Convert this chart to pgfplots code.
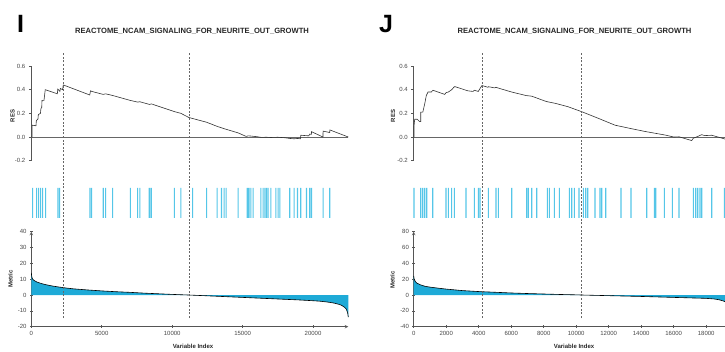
\documentclass[border=0pt]{standalone}
\usepackage{fontspec}
\setmainfont{Liberation Sans}
\usepackage{pgfplots}
\pgfplotsset{compat=1.18}
\definecolor{fillblue}{RGB}{30,170,215}
\definecolor{barblue}{RGB}{85,198,232}
\definecolor{axgray}{RGB}{85,85,85}
\definecolor{txtgray}{RGB}{70,70,70}
\pgfplotsset{
  base/.style={scale only axis, anchor=south west,
    axis line style={axgray, line width=0.6pt, -},
    tick style={axgray, line width=0.6pt}, tick align=outside, major tick length=2.5pt,
    tick label style={font=\fontsize{6}{7}\selectfont, text=txtgray},
    /pgf/number format/assume math mode=true, /pgf/number format/1000 sep={},
    scaled ticks=false, clip=false},
  blank/.style={scale only axis, anchor=south west, hide axis, clip=false},
  resline/.style={black!80, line width=0.6pt},
  zeroline/.style={black!60, line width=0.6pt},
  bars/.style={ybar, bar width=1.1pt, bar shift=0pt, fill=barblue, draw=none, mark=none},
  dsh/.style={black!60, line width=0.5pt, dash pattern=on 2pt off 1.6pt},
  resaxis/.style={base, height=94.7pt, ymin=-0.2, ymax=0.6, axis x line=none, axis y line*=left,
    ytick={-0.2,0,0.2,0.4,0.6},
    yticklabel style={/pgf/number format/.cd, fixed, fixed zerofill, precision=1}},
}
\pgfplotstableread{
x y
0 0
60 0
60 0.10
330 0.095
360 0.14
470 0.15
500 0.19
650 0.20
680 0.24
740 0.25
760 0.31
900 0.31
990 0.40
1850 0.365
1880 0.405
2030 0.385
2060 0.41
2220 0.40
2270 0.44
4150 0.355
4200 0.39
4300 0.385
5100 0.36
5280 0.365
5800 0.35
7000 0.31
7550 0.295
7700 0.298
8400 0.275
8520 0.28
10150 0.215
10620 0.20
11180 0.165
12440 0.125
13190 0.09
13700 0.07
14680 0.035
15248 0.005
15400 0.01
15600 0.008
16000 0.003
16300 -0.003
16700 -0.002
17000 -0.004
17500 -0.002
18000 -0.006
18350 -0.012
18650 -0.015
18900 -0.012
19100 -0.015
19130 0.015
19700 0.01
19760 0.025
19880 0.022
19890 0.045
20700 0.0
20710 0.05
21180 0.038
21190 0.06
22500 0
}\resI
\pgfplotstableread{
x y
0 0
18 0
18 0.09
60 0.15
222 0.15
369 0.13
431 0.13
431 0.21
560 0.21
677 0.28
775 0.35
880 0.38
1083 0.38
1188 0.395
1908 0.36
1990 0.375
2130 0.38
2340 0.40
2500 0.425
2561 0.425
3219 0.395
3342 0.39
3649 0.385
3729 0.395
3975 0.385
4080 0.41
4203 0.435
4572 0.42
4600 0.425
4985 0.415
5065 0.42
5292 0.41
6031 0.38
6930 0.35
7262 0.345
8160 0.30
8700 0.285
9495 0.256
10338 0.214
11362 0.158
12388 0.10
13414 0.07
14233 0.047
14807 0.033
15465 0.017
16000 0.0
16327 0.002
17108 -0.03
17207 -0.01
17478 0.005
17724 0.02
17900 0.012
18339 0.015
19157 -0.017
19300 -0.02
19400 0
}\resJ
\pgfplotstableread{
x y
0 14
20 12.5
50 11
100 10
200 9.2
400 8.2
700 7.3
1000 6.6
1500 5.7
2000 5.0
2500 4.4
3000 3.9
4000 3.2
5000 2.6
6000 2.1
7000 1.7
8000 1.2
9000 0.8
10000 0.4
11200 0
12000 -0.3
13000 -0.7
14000 -1.1
15000 -1.5
16000 -1.9
17000 -2.3
18000 -2.7
19000 -3.1
20000 -3.6
20500 -3.9
21000 -4.4
21500 -5.1
21800 -5.8
22000 -6.4
22200 -7.5
22350 -8.8
22450 -11
22500 -14
}\metI
\pgfplotstableread{
x y
0 24
30 20
100 17
200 15
400 13
700 11
1000 10
1500 8.7
2000 7.5
3000 5.6
4000 4.4
5000 3.5
6000 2.6
7000 1.9
8000 1.3
9000 0.7
10000 0.25
10400 0
11000 -0.3
12000 -0.8
13000 -1.3
14000 -1.8
15000 -2.4
16000 -3.0
17000 -3.6
18000 -4.2
18500 -5.0
18800 -6.0
19100 -7.8
19300 -10
19400 -15
}\metJ
\begin{document}
\begin{tikzpicture}[x=1pt,y=1pt]
\useasboundingbox (0,0) rectangle (725,351);
\clip (0,0) rectangle (725,351);
% ---------- panel I ----------
\begin{axis}[resaxis, at={(31.3pt,190.3pt)}, width=317pt, xmin=0, xmax=22500]
\addplot[zeroline] coordinates {(0,0) (22500,0)};
\addplot[resline] table[x=x,y=y] {\resI};
\end{axis}
\begin{axis}[blank, at={(31.3pt,133pt)}, width=317pt, height=30pt, xmin=0, xmax=22500, ymin=0, ymax=1]
\addplot[bars] coordinates {(99,1)(383,1)(525,1)(667,1)(808,1)(1021,1)(1894,1)(2014,1)(4163,1)(4283,1)(5106,1)(5276,1)(5773,1)(7035,1)(7546,1)(7709,1)(8369,1)(8418,1)(8525,1)(10156,1)(10617,1)(11447,1)(12440,1)(13191,1)(13503,1)(13687,1)(13829,1)(14681,1)(15319,1)(15390,1)(15461,1)(15581,1)(15745,1)(16290,1)(16454,1)(16574,1)(16694,1)(16808,1)(17000,1)(17354,1)(17517,1)(17638,1)(18347,1)(18652,1)(18893,1)(19127,1)(19531,1)(19766,1)(19886,1)(20709,1)(21184,1)};
\end{axis}
\begin{axis}[base, at={(31.3pt,24.3pt)}, width=317pt, height=95pt, xmin=0, xmax=22500, ymin=-20, ymax=40,
  axis x line=bottom, axis y line=left, ytick={-20,-10,...,40}, xtick={0,5000,...,20000}]
\addplot[fill=fillblue, draw=none] table[x=x,y=y] {\metI} \closedcycle;
\addplot[black, line width=0.6pt] table[x=x,y=y] {\metI};
\end{axis}
\begin{axis}[blank, at={(31.3pt,33pt)}, width=317pt, height=266pt, xmin=0, xmax=22500, ymin=0, ymax=1]
\addplot[dsh] coordinates {(2270,0) (2270,1)};
\addplot[dsh] coordinates {(11180,0) (11180,1)};
\end{axis}
\node[anchor=base west, font=\fontsize{25}{25}\selectfont\bfseries, inner sep=0pt] at (17,318) {I};
\node[anchor=base, font=\fontsize{7.6}{8}\selectfont\bfseries, text=black!85, inner sep=0pt] at (192,317) {REACTOME\_NCAM\_SIGNALING\_FOR\_NEURITE\_OUT\_GROWTH};
\node[rotate=90, font=\fontsize{6}{7}\selectfont\bfseries, text=black!85] at (12.5,235) {RES};
\node[rotate=90, font=\fontsize{6}{7}\selectfont\bfseries, text=black!85] at (10.5,72) {Metric};
\node[font=\fontsize{6}{7}\selectfont\bfseries, text=black!85] at (193,4.5) {Variable Index};
% ---------- panel J ----------
\begin{axis}[resaxis, at={(413.7pt,190.3pt)}, width=315.25pt, xmin=0, xmax=19400]
\addplot[zeroline] coordinates {(0,0) (19400,0)};
\addplot[resline] table[x=x,y=y] {\resJ};
\end{axis}
\begin{axis}[blank, at={(413.7pt,133pt)}, width=315.25pt, height=30pt, xmin=0, xmax=19400, ymin=0, ymax=1]
\addplot[bars] coordinates {(18,1)(431,1)(554,1)(677,1)(800,1)(1169,1)(1988,1)(2129,1)(2338,1)(2499,1)(3219,1)(3729,1)(3975,1)(4080,1)(4591,1)(5065,1)(5206,1)(6031,1)(6954,1)(7053,1)(7262,1)(7569,1)(8222,1)(8345,1)(8653,1)(8961,1)(9576,1)(9723,1)(9883,1)(10173,1)(10437,1)(10585,1)(10708,1)(11157,1)(11465,1)(11570,1)(11816,1)(12757,1)(13373,1)(14339,1)(14807,1)(14893,1)(15422,1)(15914,1)(16327,1)(17207,1)(17355,1)(17478,1)(17620,1)(17724,1)(18339,1)(19115,1)};
\end{axis}
\begin{axis}[base, at={(413.7pt,24.3pt)}, width=315.25pt, height=95pt, xmin=0, xmax=19400, ymin=-40, ymax=80,
  axis x line=bottom, axis y line=left, ytick={-40,-20,...,80}, xtick={0,2000,...,18000}]
\addplot[fill=fillblue, draw=none] table[x=x,y=y] {\metJ} \closedcycle;
\addplot[black, line width=0.6pt] table[x=x,y=y] {\metJ};
\end{axis}
\begin{axis}[blank, at={(413.7pt,33pt)}, width=315.25pt, height=266pt, xmin=0, xmax=19400, ymin=0, ymax=1]
\addplot[dsh] coordinates {(4230,0) (4230,1)};
\addplot[dsh] coordinates {(10340,0) (10340,1)};
\end{axis}
\node[anchor=base west, font=\fontsize{25}{25}\selectfont\bfseries, inner sep=0pt] at (379,318) {J};
\node[anchor=base, font=\fontsize{7.6}{8}\selectfont\bfseries, text=black!85, inner sep=0pt] at (574.5,317) {REACTOME\_NCAM\_SIGNALING\_FOR\_NEURITE\_OUT\_GROWTH};
\node[rotate=90, font=\fontsize{6}{7}\selectfont\bfseries, text=black!85] at (393,235) {RES};
\node[rotate=90, font=\fontsize{6}{7}\selectfont\bfseries, text=black!85] at (392.5,71) {Metric};
\node[font=\fontsize{6}{7}\selectfont\bfseries, text=black!85] at (574,4.5) {Variable Index};
\end{tikzpicture}
\end{document}
